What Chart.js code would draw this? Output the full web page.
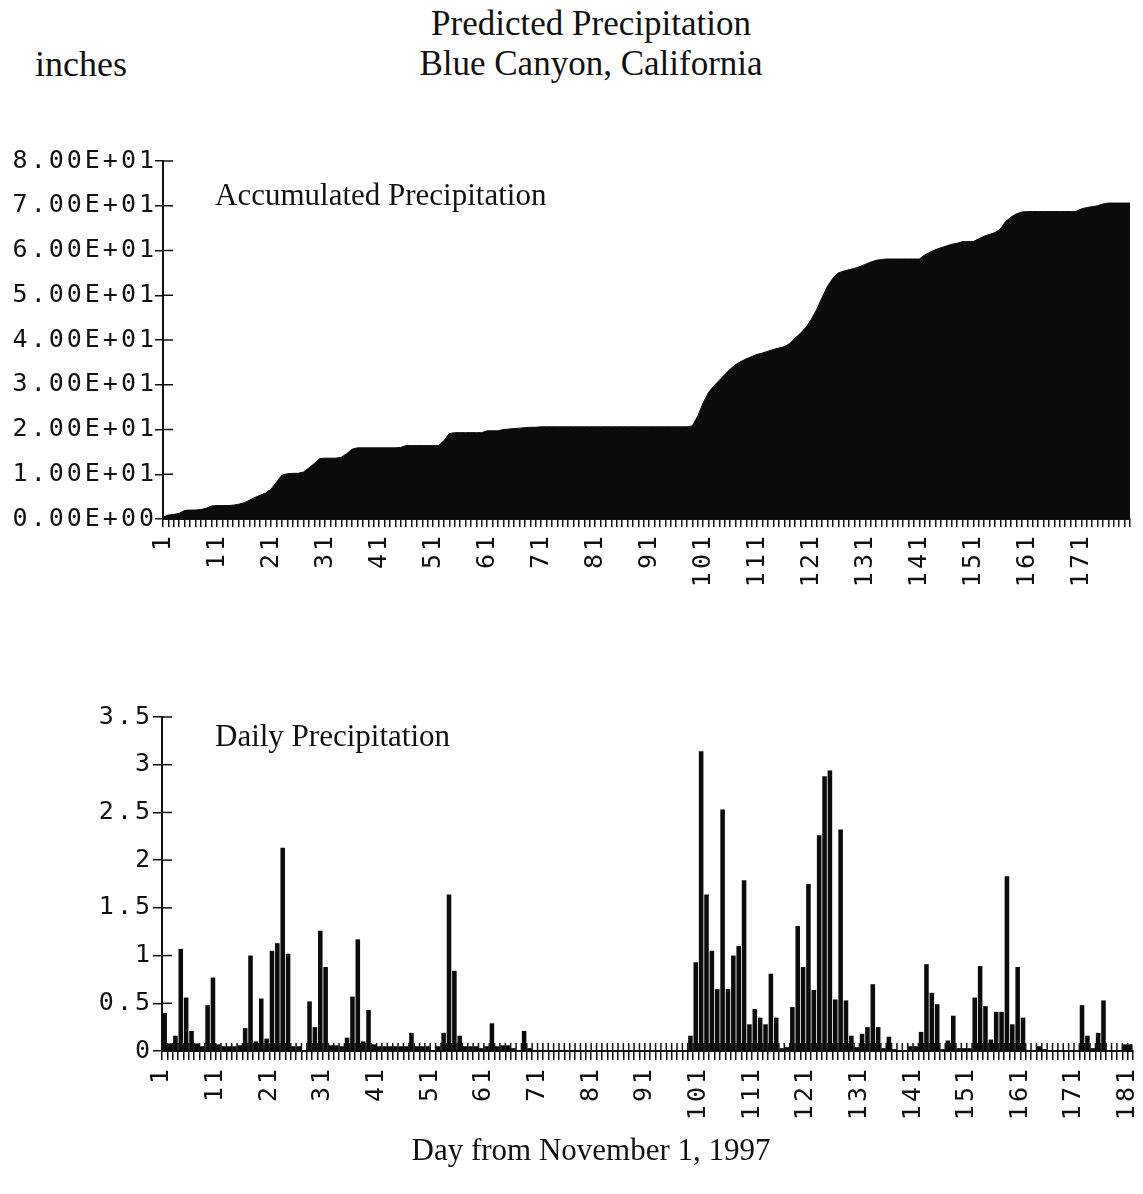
<!DOCTYPE html>
<html>
<head>
<meta charset="utf-8">
<script src="https://cdn.jsdelivr.net/npm/chart.js@4.4.1/dist/chart.umd.min.js"></script>
<style>
  html, body { margin: 0; background: #fff; }
  #page { position: relative; width: 1143px; height: 1194px; overflow: hidden;
          font-family: "Liberation Serif", "Times New Roman", serif; color: #111; }
  .txt { position: absolute; white-space: nowrap; line-height: 1; }
  canvas { position: absolute; left: 0; }
</style>
</head>
<body>
<div id="page">
  <div class="txt" style="left:0;width:1182px;text-align:center;top:6px;font-size:35px">Predicted Precipitation</div>
  <div class="txt" style="left:0;width:1182px;text-align:center;top:46px;font-size:35px">Blue Canyon, California</div>
  <div class="txt" style="left:35px;top:46px;font-size:36px">inches</div>

  <canvas id="accChart" style="top:140px" width="1143" height="470"></canvas>
  <div class="txt" style="left:215px;top:179px;font-size:31px">Accumulated Precipitation</div>

  <canvas id="dailyChart" style="top:690px" width="1143" height="450"></canvas>
  <div class="txt" style="left:215px;top:720px;font-size:31px">Daily Precipitation</div>

  <div class="txt" style="left:0;width:1182px;text-align:center;top:1134px;font-size:31px">Day from November 1, 1997</div>
</div>

<script>
// day numbers (categories)
const accDays = Array.from({ length: 180 }, (_, i) => String(i + 1));
const dailyDays = Array.from({ length: 181 }, (_, i) => String(i + 1));

// accumulated precipitation, inches
const accumulated = [
  0.4, 0.9, 1.0, 1.3, 1.9, 2.0, 2.0, 2.1, 2.4, 2.9,
  3.0, 3.0, 3.0, 3.1, 3.3, 3.6, 4.2, 4.8, 5.3, 5.8,
  6.7, 8.2, 9.8, 10.1, 10.2, 10.2, 10.5, 11.4, 12.4, 13.5,
  13.6, 13.6, 13.6, 13.8, 14.6, 15.6, 15.9, 15.9, 15.9, 15.9,
  15.9, 15.9, 15.9, 15.9, 16.0, 16.4, 16.4, 16.4, 16.4, 16.4,
  16.4, 16.4, 17.5, 19.1, 19.3, 19.3, 19.3, 19.3, 19.3, 19.3,
  19.7, 19.7, 19.7, 20.0, 20.1, 20.2, 20.3, 20.4, 20.5, 20.5,
  20.6, 20.6, 20.6, 20.6, 20.6, 20.6, 20.6, 20.6, 20.6, 20.6,
  20.6, 20.6, 20.6, 20.6, 20.6, 20.6, 20.6, 20.6, 20.6, 20.6,
  20.6, 20.6, 20.6, 20.6, 20.6, 20.6, 20.6, 20.6, 20.8, 23.0,
  26.0, 28.3, 29.8, 31.0, 32.3, 33.5, 34.5, 35.2, 35.8, 36.3,
  36.8, 37.1, 37.5, 37.9, 38.2, 38.5, 39.2, 40.4, 41.5, 42.8,
  44.6, 46.8, 49.5, 52.0, 53.8, 55.0, 55.4, 55.7, 56.0, 56.4,
  56.9, 57.4, 57.8, 58.0, 58.1, 58.1, 58.1, 58.1, 58.1, 58.1,
  58.1, 59.0, 59.6, 60.2, 60.6, 61.0, 61.4, 61.6, 62.0, 62.0,
  62.0, 62.6, 63.2, 63.6, 64.0, 64.8, 66.5, 67.5, 68.2, 68.6,
  68.7, 68.7, 68.7, 68.7, 68.7, 68.7, 68.7, 68.7, 68.7, 68.7,
  69.3, 69.6, 69.8, 70.0, 70.4, 70.6, 70.6, 70.6, 70.6, 70.6
];

// daily precipitation, inches
const daily = [
  0.40, 0.08, 0.16, 1.07, 0.56, 0.21, 0.08, 0.05, 0.48, 0.77,
  0.07, 0.05, 0.05, 0.05, 0.06, 0.24, 1.00, 0.10, 0.55, 0.13,
  1.05, 1.13, 2.13, 1.02, 0.05, 0.05, 0.00, 0.52, 0.25, 1.26,
  0.88, 0.06, 0.06, 0.05, 0.14, 0.57, 1.17, 0.10, 0.43, 0.07,
  0.05, 0.05, 0.05, 0.05, 0.05, 0.05, 0.19, 0.05, 0.05, 0.05,
  0.00, 0.05, 0.19, 1.64, 0.84, 0.16, 0.05, 0.05, 0.05, 0.03,
  0.05, 0.29, 0.05, 0.06, 0.06, 0.03, 0.00, 0.21, 0.03, 0.00,
  0, 0, 0, 0, 0, 0, 0, 0, 0, 0,
  0, 0, 0, 0, 0, 0, 0, 0, 0, 0,
  0, 0, 0, 0, 0, 0, 0, 0, 0.16, 0.93,
  3.14, 1.64, 1.05, 0.65, 2.53, 0.65, 1.00, 1.10, 1.79, 0.28,
  0.44, 0.35, 0.28, 0.81, 0.35, 0.03, 0.04, 0.46, 1.31, 0.88,
  1.75, 0.64, 2.26, 2.88, 2.94, 0.54, 2.32, 0.53, 0.16, 0.04,
  0.18, 0.25, 0.70, 0.25, 0.03, 0.15, 0.02, 0.00, 0.00, 0.05,
  0.05, 0.20, 0.91, 0.61, 0.49, 0.02, 0.11, 0.37, 0.03, 0.03,
  0.03, 0.56, 0.89, 0.47, 0.12, 0.41, 0.41, 1.83, 0.28, 0.88,
  0.35, 0.00, 0.00, 0.05, 0.02, 0.00, 0.00, 0.00, 0.00, 0.00,
  0.00, 0.48, 0.16, 0.03, 0.19, 0.53, 0.00, 0.00, 0.00, 0.07,
  0.07
];

const accTicks = { min: 0, max: 80, step: 10 };
const dailyTicks = { min: 0, max: 3.5, step: 0.5 };

const INK = '#111';
const tickFont = { family: '"DejaVu Sans Mono", monospace', size: 25 };

// 8.00E+01 style labels
function sci(v) {
  if (v === 0) return '0.00E+00';
  const e = Math.floor(Math.log10(Math.abs(v)));
  const m = (v / Math.pow(10, e)).toFixed(2);
  const es = (e < 0 ? '-' : '+') + String(Math.abs(e)).padStart(2, '0');
  return m + 'E' + es;
}

// wide typewriter spacing on the axis labels
const spacing = {
  id: 'spacing',
  beforeLayout(chart) { chart.ctx.letterSpacing = '3px'; },
  beforeDraw(chart) { chart.ctx.letterSpacing = '3px'; }
};

// tick marks that also reach into the plot (crossed ticks)
const crossTicks = {
  id: 'crossTicks',
  afterDatasetsDraw(chart, args, opts) {
    const { ctx, chartArea, scales } = chart;
    ctx.save();
    ctx.strokeStyle = INK;
    ctx.lineWidth = 1.5;
    if (opts.y) {
      scales.y.ticks.forEach((t, i) => {
        const y = scales.y.getPixelForTick(i);
        ctx.beginPath();
        ctx.moveTo(chartArea.left, y);
        ctx.lineTo(chartArea.left + opts.y, y);
        ctx.stroke();
      });
    }
    if (opts.x) {
      const half = (scales.x.getPixelForValue(1) - scales.x.getPixelForValue(0)) / 2;
      scales.x.ticks.forEach((t, i) => {
        const x = scales.x.getPixelForTick(i) - half;
        ctx.beginPath();
        ctx.moveTo(x, chartArea.bottom);
        ctx.lineTo(x, chartArea.bottom - opts.x);
        ctx.stroke();
      });
    }
    ctx.restore();
  }
};

function axisGrid(len) {
  return { display: true, drawOnChartArea: false, drawTicks: true, tickLength: len, color: INK, lineWidth: 1.5 };
}

// keep the rotated labels from pulling the plot edges inwards
function fitX(height) {
  return function (s) {
    s.height = height;
    s.paddingLeft = 0;
    s.paddingRight = 0;
  };
}

new Chart(document.getElementById('accChart'), {
  type: 'line',
  data: {
    labels: accDays,
    datasets: [{
      data: accumulated,
      fill: 'origin',
      backgroundColor: '#0b0b0b',
      borderColor: '#0b0b0b',
      borderWidth: 1,
      pointRadius: 0,
      tension: 0
    }]
  },
  options: {
    responsive: false,
    animation: false,
    events: [],
    layout: { padding: { top: 21, right: 13, left: 0, bottom: 0 } },
    plugins: {
      legend: { display: false },
      tooltip: { enabled: false },
      crossTicks: { y: 10, x: 0 }
    },
    scales: {
      x: {
        type: 'category',
        offset: false,
        grid: axisGrid(8),
        border: { color: INK, width: 2 },
        ticks: {
          autoSkip: false, minRotation: 90, maxRotation: 90, padding: 6,
          font: tickFont, color: INK,
          callback: (v, i) => (i % 10 === 0 ? accDays[i] : '')
        },
        afterFit: fitX(91)
      },
      y: {
        min: accTicks.min, max: accTicks.max,
        grid: axisGrid(8),
        border: { color: INK, width: 2 },
        ticks: { stepSize: accTicks.step, font: tickFont, color: INK, padding: -2, callback: v => sci(v) },
        afterFit(s) { s.width = 163; }
      }
    }
  },
  plugins: [spacing, crossTicks]
});

new Chart(document.getElementById('dailyChart'), {
  type: 'bar',
  data: {
    labels: dailyDays,
    datasets: [{
      data: daily,
      backgroundColor: '#0b0b0b',
      borderWidth: 0,
      barPercentage: 0.85,
      categoryPercentage: 1
    }]
  },
  options: {
    responsive: false,
    animation: false,
    events: [],
    layout: { padding: { top: 27, right: 10, left: 0, bottom: 0 } },
    plugins: {
      legend: { display: false },
      tooltip: { enabled: false },
      crossTicks: { y: 10, x: 8 }
    },
    scales: {
      x: {
        type: 'category',
        offset: true,
        grid: Object.assign(axisGrid(9), { offset: true }),
        border: { color: INK, width: 2 },
        ticks: {
          autoSkip: false, minRotation: 90, maxRotation: 90, padding: 6,
          labelOffset: -2.7,
          font: tickFont, color: INK,
          callback: (v, i) => (i % 10 === 0 ? dailyDays[i] : '')
        },
        afterFit: fitX(89)
      },
      y: {
        min: dailyTicks.min, max: dailyTicks.max,
        grid: axisGrid(9),
        border: { color: INK, width: 2 },
        ticks: { stepSize: dailyTicks.step, font: tickFont, color: INK, padding: 0, callback: v => String(v) },
        afterFit(s) { s.width = 162; }
      }
    }
  },
  plugins: [spacing, crossTicks]
});
</script>
</body>
</html>
